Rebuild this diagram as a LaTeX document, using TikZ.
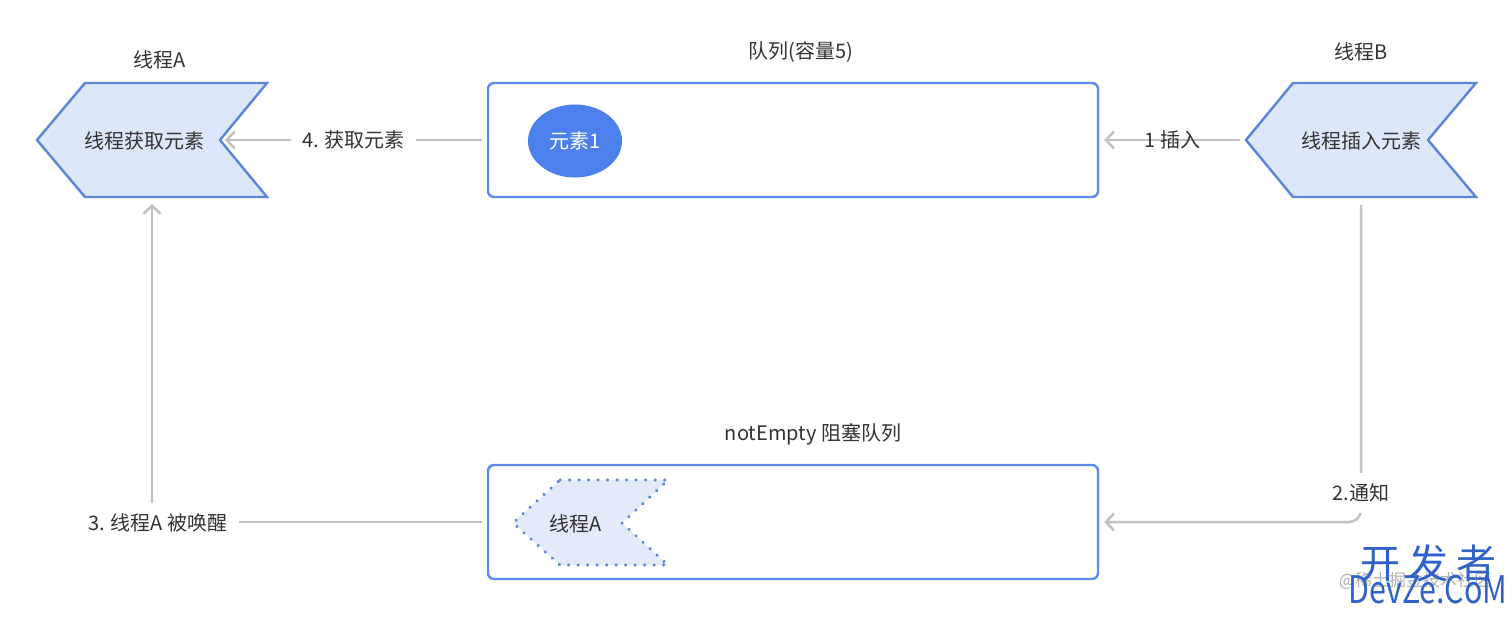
\documentclass[tikz,border=0pt]{standalone}
\usepackage{fontspec}
\setmainfont{Noto Sans CJK SC}
\usetikzlibrary{arrows.meta,shapes.geometric}
\definecolor{chevfill}{HTML}{DDE7FA}
\definecolor{chevline}{HTML}{5A86D8}
\definecolor{boxline}{HTML}{5B8DE8}
\definecolor{dotfill}{HTML}{E3EBFB}
\definecolor{ballfill}{HTML}{4C80EC}
\definecolor{txt}{HTML}{333333}
\definecolor{connc}{HTML}{C2C2C2}
\definecolor{wm}{HTML}{2F62C9}
\definecolor{wmgray}{HTML}{B0B0B0}
\begin{document}
\begin{tikzpicture}[x=1pt,y=-1pt,
  chev/.style={draw=chevline, fill=chevfill, line width=2.4pt, line join=miter},
  dotchev/.style={draw=chevline, fill=dotfill, line width=3.4pt, line cap=round, dash pattern=on 0.1pt off 9.4pt},
  qbox/.style={draw=boxline, line width=2.4pt, rounded corners=6pt, minimum width=610pt, minimum height=114pt, inner sep=0pt},
  lbl/.style={text=txt, font=\fontsize{20}{24}\selectfont, inner sep=0pt},
  gap/.style={lbl, fill=white, inner sep=11pt},
  conn/.style={draw=connc, line width=2.5pt, -{Straight Barb[length=8pt,width=17pt]}}
]
\useasboundingbox (0,0) rectangle (1512,616);
\fill[white] (0,0) rectangle (1512,616);

% thread A chevron
\draw[chev] (85,83) -- (267,83) -- (220,140) -- (267,197) -- (85,197) -- (37,140) -- cycle;
\coordinate (Anotch) at (220,140);
\coordinate (Abot) at (152,197);
\node[lbl] (tA) at (144,141) {线程获取元素};
\node[lbl] (titleA) at (160,60) {线程A};

% thread B chevron
\draw[chev] (1293,83) -- (1476,83) -- (1428,140) -- (1476,197) -- (1293,197) -- (1246,140) -- cycle;
\coordinate (Btip) at (1246,140);
\coordinate (Bbot) at (1361,197);
\node[lbl] (tB) at (1361,141) {线程插入元素};
\node[lbl] (titleB) at (1361,52) {线程B};

% queue
\node[qbox] (q) at (793,140) {};
\node[lbl] (titleq) at (801,52) {队列(容量5)};
\node[ellipse, fill=ballfill, minimum width=94pt, minimum height=73pt, inner sep=0pt,
      text=white, font=\fontsize{20}{24}\selectfont] (e1) at (575,141) {元素1};

% notEmpty queue
\node[qbox] (q2) at (793,522) {};
\node[lbl] (titleq2) at (813,434) {notEmpty 阻塞队列};
\draw[dotchev] (560,480) -- (668,480) -- (622,523) -- (668,565) -- (560,565) -- (513,523) -- cycle;
\node[lbl] (tA2) at (576,524) {线程A};

% connectors
\draw[conn, shorten <=5pt, shorten >=5pt] (q.west) -- node[gap] (l4) {4. 获取元素} (Anotch);
\draw[conn, shorten <=6pt, shorten >=5pt] (Btip) -- node[lbl] (l1) {1 插入} (q.east);
\draw[conn, rounded corners=12pt, shorten <=8pt, shorten >=5pt] (Bbot) |- (q2.east);
\node[gap] (l2) at (1361,493) {2.通知};
\draw[conn, shorten <=5pt, shorten >=7pt] (q2.west) -| (Abot);
\node[gap] (l3) at (158,523) {3. 线程A 被唤醒};

% watermark
\node[text=wmgray, font=\fontsize{17}{20}\selectfont, inner sep=0pt] (wm3) at (1415,581) {@稀土掘金技术社区};
\node[text=wm, font=\fontsize{40}{44}\selectfont, inner sep=0pt] (wm1) at (1428,563) {开\hspace{8pt}发\hspace{8pt}者};
\node[text=wm, font=\fontsize{38}{42}\selectfont, inner sep=0pt, xscale=0.8] (wm2) at (1428,590) {DevZe.CoM};
\end{tikzpicture}
\end{document}
